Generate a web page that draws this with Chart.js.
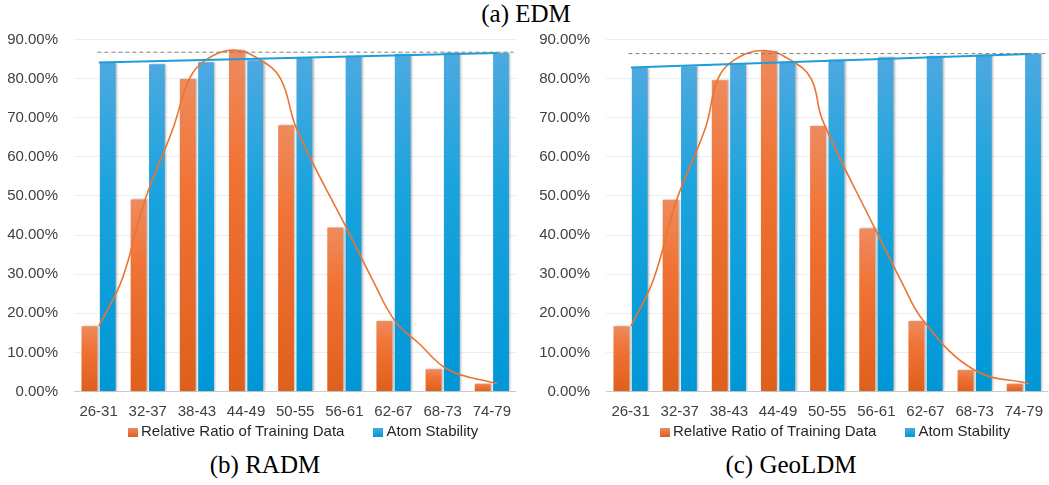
<!DOCTYPE html>
<html>
<head>
<meta charset="utf-8">
<script src="https://cdn.jsdelivr.net/npm/chart.js@4.4.1/dist/chart.umd.min.js"></script>
<style>
  html, body { margin:0; padding:0; background:#fff; }
  body { width:1049px; height:485px; overflow:hidden; position:relative; }
  .box { position:absolute; top:0; height:425px; }
  .layer { position:absolute; left:0; top:0; width:100%; height:100%; }
  .cap { position:absolute; font-family:"Liberation Serif","Times New Roman",serif; font-size:25px; line-height:28px; text-align:center; color:#000; white-space:nowrap; }
  .legend { position:absolute; top:422px; height:18px; font-family:"Liberation Sans",Arial,sans-serif; font-size:15px; line-height:18px; color:#262626; white-space:nowrap; }
  .legend span.sw { display:inline-block; width:10px; height:9px; vertical-align:-1px; margin-right:3px; }
  .legend span.item { display:inline-block; }
</style>
</head>
<body>
<div class="cap" style="left:0; width:1052px; top:0;">(a) EDM</div>

<div class="box" style="left:0; width:522px;">
  <div class="layer"><canvas id="radmBars"></canvas></div>
  <div class="layer"><canvas id="radmLines"></canvas></div>
</div>
<div class="box" style="left:530px; width:524px;">
  <div class="layer"><canvas id="geoBars"></canvas></div>
  <div class="layer"><canvas id="geoLines"></canvas></div>
</div>

<div class="legend" style="left:128px;">
  <span class="item"><span class="sw" style="background:linear-gradient(#ee8a5c,#e0601e)"></span>Relative Ratio of Training Data</span><span class="item" style="margin-left:29px;"><span class="sw" style="background:linear-gradient(#4aa8e0,#009ad8)"></span>Atom Stability</span>
</div>
<div class="legend" style="left:660px;">
  <span class="item"><span class="sw" style="background:linear-gradient(#ee8a5c,#e0601e)"></span>Relative Ratio of Training Data</span><span class="item" style="margin-left:29px;"><span class="sw" style="background:linear-gradient(#4aa8e0,#009ad8)"></span>Atom Stability</span>
</div>

<div class="cap" style="left:165px; width:200px; top:451px;">(b) RADM</div>
<div class="cap" style="left:691px; width:200px; top:451px;">(c) GeoLDM</div>

<script>
// ---------- data ----------
const categories = ['26-31','32-37','38-43','44-49','50-55','56-61','62-67','68-73','74-79'];
const seriesNames = ['Relative Ratio of Training Data', 'Atom Stability'];
const yMax = 90;
const yStep = 10;

// (b) RADM
const radmRatio     = [16.7, 49.1, 79.9, 87.2, 68.1, 41.9, 18.0, 5.7, 2.0];
const radmStability = [84.0, 83.7, 84.2, 84.7, 85.3, 85.8, 86.3, 86.6, 86.6];
const radmCurveX    = [0, 0.46, 0.93, 1.48, 1.82, 2.15, 2.70, 3.24, 3.65, 3.98, 4.97, 5.50, 5.95, 6.42, 7.03, 8];
const radmCurveY    = [16.7, 28.5, 49.1, 66.9, 80.0, 84.8, 87.3, 84.8, 80.0, 66.9, 41.9, 28.5, 18.0, 12.4, 5.5, 2.0];
const radmTrendX    = [0, 8];
const radmTrendY    = [84.1, 86.55];
const radmRefX      = [-0.03, 8.33];
const radmRefY      = [86.75, 86.75];

// (c) GeoLDM
const geoRatio      = [16.7, 49.0, 79.6, 87.0, 67.9, 41.7, 18.0, 5.5, 2.0];
const geoStability  = [82.7, 83.1, 83.7, 84.3, 84.8, 85.4, 85.8, 86.1, 86.4];
const geoCurveX     = [0, 0.45, 0.92, 1.50, 1.75, 2.08, 2.67, 3.20, 3.62, 3.85, 4.90, 5.42, 5.88, 6.90, 8];
const geoCurveY     = [16.7, 28.5, 49.0, 67.5, 80.0, 84.8, 87.2, 84.8, 80.0, 69.4, 41.7, 28.5, 18.0, 5.5, 2.0];
const geoTrendX     = [0, 8];
const geoTrendY     = [82.85, 86.3];
const geoRefX       = [-0.05, 8.35];
const geoRefY       = [86.4, 86.4];

// ---------- styling ----------
const ORANGE_STOPS = [[0,'#ee8b5e'],[0.35,'#f07335'],[1,'#df5f1c']];
const BLUE_STOPS   = [[0,'#4da9e0'],[0.4,'#1aa3dd'],[1,'#0097d6']];
const TICK_FONT = { family: '"Liberation Sans", Arial, sans-serif', size: 15 };
const PAD_TOP = 39.5, PAD_BOTTOM = 3.5, X_AXIS_H = 30;

function barGradient(stops) {
  return (ctx) => {
    const chart = ctx.chart;
    if (!chart.chartArea || ctx.type !== 'data') return stops[1][1];
    const ys = chart.scales.y;
    const top = ys.getPixelForValue(ctx.raw);
    const bot = ys.getPixelForValue(0);
    if (!isFinite(top) || !isFinite(bot) || top === bot) return stops[1][1];
    const g = chart.ctx.createLinearGradient(0, top, 0, bot);
    stops.forEach(([o, c]) => g.addColorStop(o, c));
    return g;
  };
}

const barShadow = {
  id: 'barShadow',
  beforeDatasetsDraw(chart) {
    const c = chart.ctx;
    c.save();
    c.shadowColor = 'rgba(0,0,0,0.28)';
    c.shadowBlur = 2;
    c.shadowOffsetX = 1.5;
    c.shadowOffsetY = 0;
  },
  afterDatasetsDraw(chart) { chart.ctx.restore(); }
};

function pts(xs, ys) { return xs.map((x, i) => ({ x: x, y: ys[i] })); }

function makeBars(id, ratio, stab, axisWidth) {
  return new Chart(document.getElementById(id), {
    type: 'bar',
    data: {
      labels: categories,
      datasets: [
        { label: seriesNames[0], data: ratio, backgroundColor: barGradient(ORANGE_STOPS),
          borderWidth: 0, categoryPercentage: 0.747, barPercentage: 0.86 },
        { label: seriesNames[1], data: stab, backgroundColor: barGradient(BLUE_STOPS),
          borderWidth: 0, categoryPercentage: 0.747, barPercentage: 0.86 }
      ]
    },
    options: {
      responsive: true,
      maintainAspectRatio: false,
      animation: false,
      devicePixelRatio: 1,
      layout: { padding: { top: PAD_TOP, bottom: PAD_BOTTOM, left: 0, right: 0 } },
      plugins: { legend: { display: false }, tooltip: { enabled: false } },
      scales: {
        x: {
          type: 'category',
          offset: true,
          grid: { display: false, drawTicks: false },
          border: { display: false },
          ticks: { font: TICK_FONT, color: '#404040', padding: 11, autoSkip: false, maxRotation: 0 },
          afterFit(s) { s.height = X_AXIS_H; }
        },
        y: {
          min: 0, max: yMax,
          grid: {
            drawTicks: false,
            color: (c) => (c.tick && c.tick.value === 0) ? '#c9c9c9' : '#eeeeee',
            lineWidth: 1
          },
          border: { display: false },
          ticks: { stepSize: yStep, font: TICK_FONT, color: '#404040', padding: 16,
                   callback: (v) => Number(v).toFixed(2) + '%' },
          afterFit(s) { s.width = axisWidth; }
        }
      }
    },
    plugins: [barShadow]
  });
}

function makeLines(id, cx, cy, tx, ty, rx, ry, axisWidth) {
  return new Chart(document.getElementById(id), {
    type: 'line',
    data: {
      datasets: [
        { label: 'max level', data: pts(rx, ry), borderColor: '#7f7f7f', borderWidth: 1,
          borderDash: [4, 3], pointRadius: 0, fill: false },
        { label: 'Atom Stability trend', data: pts(tx, ty), borderColor: '#1d9edb', borderWidth: 2,
          pointRadius: 0, fill: false },
        { label: 'Relative Ratio curve', data: pts(cx, cy), borderColor: '#ec7431', borderWidth: 1.6,
          pointRadius: 0, tension: 0.4, fill: false }
      ]
    },
    options: {
      responsive: true,
      maintainAspectRatio: false,
      animation: false,
      devicePixelRatio: 1,
      layout: { padding: { top: PAD_TOP, bottom: PAD_BOTTOM + X_AXIS_H, left: axisWidth, right: 0 } },
      plugins: { legend: { display: false }, tooltip: { enabled: false } },
      scales: {
        x: { type: 'linear', display: false, offset: false, min: -0.5, max: categories.length - 0.5 },
        y: { type: 'linear', display: false, min: 0, max: yMax }
      }
    }
  });
}

makeBars('radmBars', radmRatio, radmStability, 74);
makeLines('radmLines', radmCurveX, radmCurveY, radmTrendX, radmTrendY, radmRefX, radmRefY, 74);
makeBars('geoBars', geoRatio, geoStability, 76);
makeLines('geoLines', geoCurveX, geoCurveY, geoTrendX, geoTrendY, geoRefX, geoRefY, 76);
</script>
</body>
</html>
